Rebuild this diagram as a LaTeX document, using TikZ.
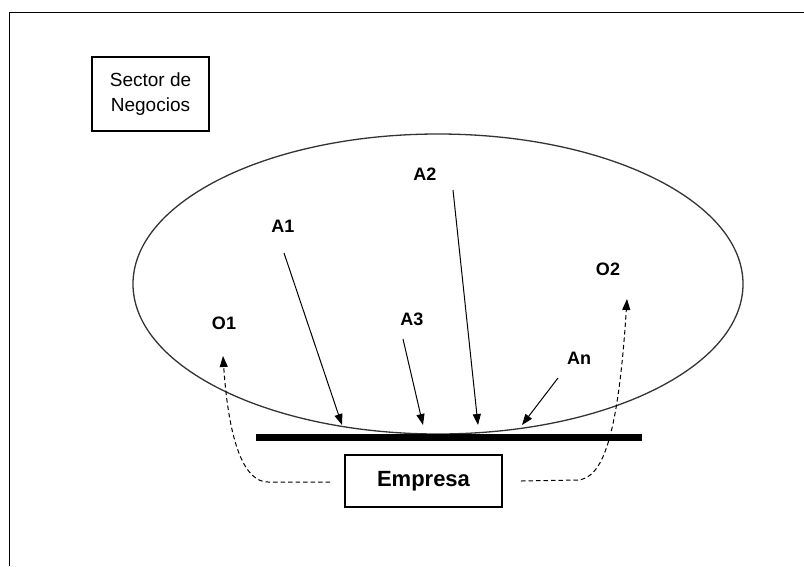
\documentclass[tikz,border=0pt]{standalone}
\usepackage{fontspec}
\setmainfont{Liberation Sans}
\usetikzlibrary{arrows.meta}
\begin{document}
\begin{tikzpicture}[x=1pt,y=-1pt,
  lbl/.style={font=\fontsize{18}{18}\selectfont\bfseries, inner sep=0pt},
  arr/.style={line width=1pt, -{Triangle[length=11pt,width=8pt]}},
  darr/.style={line width=1pt, dash pattern=on 4.5pt off 3pt, -{Triangle[length=11pt,width=8pt]}},
  boxed/.style={draw, line width=1.1pt, inner sep=0pt, align=center}]
\useasboundingbox (0,0) rectangle (804,566);
% outer frame (left and top edges)
\draw[line width=1.4pt] (9.5,566) -- (9.5,12.5) -- (804,12.5);
% sector box
\node[boxed, minimum width=117pt, minimum height=74pt,
      font=\fontsize{19}{25}\selectfont] (sector) at (150.5,94) {Sector de\\Negocios};
% ellipse
\draw[line width=1.3pt, black!80] (438,284) ellipse [x radius=305pt, y radius=150pt];
% bar
\draw[line width=7pt] (256,437) coordinate (barL) -- (642,437) coordinate (barR);
% empresa
\node[boxed, minimum width=157pt, minimum height=52pt,
      font=\fontsize{22}{22}\selectfont\bfseries] (empresa) at (423.5,481) {Empresa};
% labels
\node[lbl] (A1) at (283,226) {A1};
\node[lbl] (A2) at (425,174) {A2};
\node[lbl] (A3) at (412,319) {A3};
\node[lbl] (An) at (579,358) {An};
\node[lbl] (O1) at (224,323) {O1};
\node[lbl] (O2) at (608,269) {O2};
% arrow endpoints
\coordinate (a1s) at (284,253); \coordinate (a1e) at (342,425);
\coordinate (a2s) at (453,190); \coordinate (a2e) at (478,425);
\coordinate (a3s) at (403,339); \coordinate (a3e) at (423,425);
\coordinate (ans) at (558,378); \coordinate (ane) at (522,425);
\coordinate (o1s) at (330,482); \coordinate (o1e) at (223,356);
\coordinate (o2s) at (521,481); \coordinate (o2e) at (627,299);
\draw[arr] (a1s) -- (a1e);
\draw[arr] (a2s) -- (a2e);
\draw[arr] (a3s) -- (a3e);
\draw[arr] (ans) -- (ane);
\draw[darr] (o1s) -- (268,482) .. controls (245,482) and (229,445) .. (o1e);
\draw[darr] (o2s) -- (578,480) .. controls (602,478) and (618,440) .. (o2e);
\end{tikzpicture}
\end{document}
